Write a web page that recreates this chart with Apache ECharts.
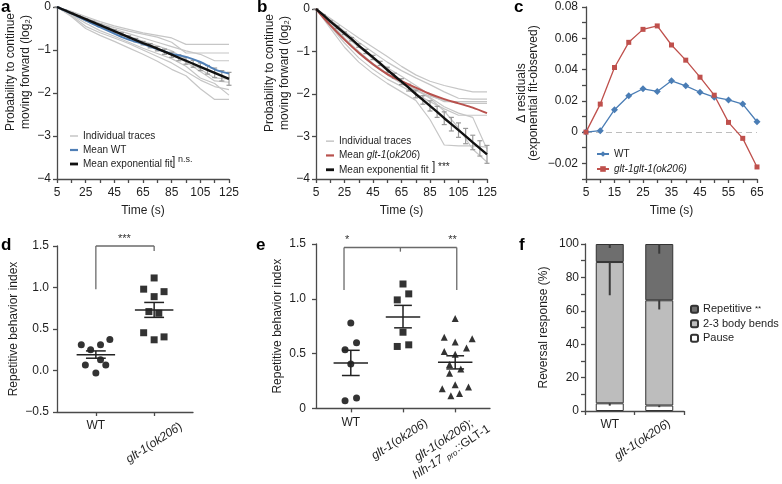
<!DOCTYPE html>
<html><head><meta charset="utf-8">
<script src="https://cdn.jsdelivr.net/npm/echarts@6/dist/echarts.min.js"></script>
<style>html,body{margin:0;padding:0;background:#fff}#c{width:782px;height:484px}</style>
</head><body><div id="c"></div>
<script>
// ================= DATA =================
// Panel a / b: time grid of traces (s)
const tTrace = [5,15,25,35,45,55,65,75,85,95,105,115,125];
const tFit = [5,10,15,20,25,30,35,40,45,50,55,60,65,70,75,80,85,90,95,100,105,110,115,120,125];
const xTicksAB = [5,15,25,35,45,55,65,75,85,95,105,115,125];
const xLabelsAB = [5,25,45,65,85,105,125];

// Panel a: WT individual traces (log2)
const tracesA = [
  [0,-0.10,-0.22,-0.34,-0.44,-0.52,-0.60,-0.66,-0.72,-0.87,-0.87,-0.87,-0.87],
  [0,-0.11,-0.25,-0.38,-0.48,-0.56,-0.63,-0.70,-0.82,-1.07,-1.07,-1.07,-1.07],
  [0,-0.14,-0.28,-0.40,-0.52,-0.62,-0.72,-0.82,-0.92,-1.02,-1.10,-1.25,-1.25],
  [0,-0.16,-0.33,-0.47,-0.60,-0.72,-0.84,-0.98,-1.12,-1.28,-1.50,-1.72,-1.75],
  [0,-0.20,-0.45,-0.60,-0.72,-0.85,-1.00,-1.15,-1.30,-1.50,-1.70,-1.85,-1.92],
  [0,-0.22,-0.50,-0.66,-0.80,-0.95,-1.10,-1.26,-1.45,-1.60,-1.90,-2.15,-2.15],
  [0,-0.18,-0.38,-0.55,-0.68,-0.82,-0.96,-1.08,-1.20,-1.38,-1.65,-1.78,-2.05],
  [0,-0.13,-0.30,-0.45,-0.58,-0.68,-0.80,-0.90,-1.02,-1.22,-1.45,-1.65,-1.68]
];
const meanWT = [0,-0.15,-0.31,-0.47,-0.62,-0.76,-0.86,-0.98,-1.09,-1.16,-1.28,-1.45,-1.55];
const fitA = [0,-0.07,-0.14,-0.21,-0.28,-0.35,-0.42,-0.49,-0.56,-0.63,-0.70,-0.77,-0.84,-0.90,-0.97,-1.04,-1.11,-1.18,-1.25,-1.32,-1.39,-1.46,-1.53,-1.60,-1.67];
const semA = [0,0.005,0.01,0.01,0.01,0.02,0.02,0.02,0.03,0.03,0.03,0.04,0.04,0.05,0.05,0.06,0.06,0.07,0.08,0.08,0.09,0.10,0.11,0.12,0.15];

// Panel b: glt-1(ok206) individual traces (log2)
const tracesB = [
  [0,-0.22,-0.45,-0.68,-0.90,-1.12,-1.35,-1.55,-1.70,-1.80,-1.88,-1.95,-1.95],
  [0,-0.25,-0.52,-0.78,-1.02,-1.25,-1.45,-1.62,-1.78,-1.95,-2.10,-2.12,-2.12],
  [0,-0.30,-0.62,-0.90,-1.15,-1.38,-1.58,-1.80,-2.02,-2.18,-2.18,-2.18,-2.18],
  [0,-0.35,-0.72,-1.05,-1.32,-1.55,-1.75,-1.92,-2.05,-2.15,-2.22,-2.22,-2.22],
  [0,-0.40,-0.80,-1.15,-1.42,-1.65,-1.82,-2.00,-2.18,-2.35,-2.50,-2.50,-2.50],
  [0,-0.45,-0.90,-1.25,-1.52,-1.75,-1.95,-2.15,-2.60,-3.20,-3.22,-3.22,-3.25],
  [0,-0.32,-0.68,-1.00,-1.28,-1.52,-1.72,-1.90,-2.10,-2.40,-2.80,-3.30,-3.60],
  [0,-0.28,-0.58,-0.88,-1.18,-1.45,-1.68,-1.88,-2.08,-2.30,-2.45,-2.55,-3.30]
];
const meanGlt = [0,-0.38,-0.72,-1.03,-1.30,-1.53,-1.70,-1.85,-2.00,-2.12,-2.22,-2.32,-2.45];
const fitB = [0,-0.14,-0.29,-0.43,-0.57,-0.71,-0.86,-1.00,-1.14,-1.28,-1.43,-1.57,-1.71,-1.85,-2.00,-2.14,-2.28,-2.42,-2.57,-2.71,-2.85,-2.99,-3.14,-3.28,-3.42];
const semB = [0,0.01,0.02,0.03,0.03,0.04,0.04,0.05,0.05,0.05,0.06,0.06,0.07,0.08,0.09,0.10,0.12,0.13,0.15,0.16,0.17,0.18,0.17,0.18,0.21];

// Panel c: residuals
const tC = [5,10,15,20,25,30,35,40,45,50,55,60,65];
const xTicksC = [5,10,15,20,25,30,35,40,45,50,55,60,65];
const xLabelsC = [5,15,25,35,45,55,65];
const yLabelsC = [-0.02,0,0.02,0.04,0.06,0.08];
const resWT = [0,0.0009,0.0143,0.0232,0.0277,0.026,0.0328,0.0296,0.0255,0.0223,0.0206,0.0179,0.0066];
const resGlt = [0,0.0179,0.0413,0.0574,0.0657,0.0679,0.0557,0.046,0.0351,0.0236,0.0062,-0.004,-0.0223];

// Panel d: repetitive behavior index
const dWTvals = [0.31,0.25,0.31,0.375,0.065,0.13,0.065,-0.03];
const dWTjit  = [-0.25,-0.09,0.08,0.24,-0.18,0.08,0.17,0];
const dGltVals = [1.115,0.98,0.95,0.89,0.71,0.69,0.455,0.37,0.405];
const dGltJit  = [0,-0.18,0.17,0,-0.09,0.08,-0.18,0,0.17];
const dMean = [0.19,0.73];
const dSem = [[0.148,0.236],[0.64,0.82]];
const dSig = [[1,0.98,1,1.5],[1,1.5,2,1.5],[2,1.5,2,1.44]];
const dStars = [[1.49,1.5]]; const dStarText = ['***'];

// Panel e
const eWTvals = [0.78,0.535,0.60,0.405,0.07,0.095];
const eWTjit  = [0,-0.11,0.11,0,-0.11,0.11];
const eGltVals = [1.135,1.045,0.99,0.695,0.565,0.58];
const eGltJit  = [0,0.11,-0.11,0,-0.11,0.11];
const eResVals = [0.82,0.65,0.605,0.635,0.52,0.55,0.495,0.40,0.36,0.32,0.18,0.215,0.195,0.115,0.135];
const eResJit  = [0,-0.21,0,0.325,-0.21,0.217,0,-0.108,0.108,-0.108,-0.248,0,0.255,-0.083,0.083];
const eMean = [0.415,0.835,0.42];
const eSem = [[0.30,0.53],[0.735,0.94],[0.36,0.48]];
const eSig = [[0.87,1.08,0.87,1.468],[0.87,1.468,3.03,1.468],[3.03,1.468,3.03,1.08],[1.95,1.468,1.95,1.43]];
const eStars = [[0.93,1.468],[2.95,1.468]]; const eStarText = ['*','**'];

// Panel f: reversal response (%)
const fCats = ['WT','glt-1(ok206)'];
const fPause = [4.6,3.3];
const fBends = [84.6,63.0];
const fRep = [10.8,33.7];
const fErr = [ // [category, segment top, error length]
  [0,100,2.4],[0,89.2,19.9],[0,4.6,1.4],
  [1,100,5.8],[1,66.3,5.5],[1,3.3,1.0]
];

// ================= STYLE =================
const F = '"Liberation Sans", Arial, Helvetica, sans-serif';
const TX = '#1e1e1e', AX = '#4a4a4a';
const minus = v => (v < 0 ? '\u2212' : '') + Math.abs(v);

function merge(a, b) {
  const o = Object.assign({}, a);
  for (const k in b) {
    if (b[k] && typeof b[k] === 'object' && !Array.isArray(b[k]) && a[k] && typeof a[k] === 'object') o[k] = merge(a[k], b[k]);
    else o[k] = b[k];
  }
  return o;
}
const axBase = {
  axisLine: {show: true, onZero: false, lineStyle: {color: AX, width: 1.3}},
  axisTick: {show: true, length: 4, lineStyle: {color: AX, width: 1.3}},
  splitLine: {show: false},
  axisLabel: {color: TX, fontSize: 12, fontFamily: F, margin: 6},
  nameTextStyle: {color: TX, fontSize: 12, fontFamily: F}
};
const ax = o => merge(axBase, o);
const ital = {fontStyle: 'italic', fontSize: 12, fontFamily: F, color: TX};
const norm = {fontSize: 12, fontFamily: F, color: TX};

// ================= RENDERERS =================
function errBar(cap, color, w) {
  return function (p, api) {
    const x = api.value(0), y = api.value(1), e = api.value(2);
    const hi = api.coord([x, y + e]), lo = api.coord([x, y - e]);
    const st = {stroke: color, lineWidth: w};
    return {type: 'group', children: [
      {type: 'line', shape: {x1: hi[0], y1: hi[1], x2: lo[0], y2: lo[1]}, style: st},
      {type: 'line', shape: {x1: hi[0] - cap, y1: hi[1], x2: hi[0] + cap, y2: hi[1]}, style: st},
      {type: 'line', shape: {x1: lo[0] - cap, y1: lo[1], x2: lo[0] + cap, y2: lo[1]}, style: st}
    ]};
  };
}
function summary(p, api) {
  const x = api.value(0), m = api.value(1), lo = api.value(2), hi = api.value(3);
  const a = api.coord([x - 0.33, m]), b = api.coord([x + 0.33, m]);
  const pl = api.coord([x, lo]), ph = api.coord([x, hi]);
  const l1 = api.coord([x - 0.17, lo]), l2 = api.coord([x + 0.17, lo]);
  const h1 = api.coord([x - 0.17, hi]), h2 = api.coord([x + 0.17, hi]);
  const st = {stroke: '#222', lineWidth: 1.5};
  return {type: 'group', children: [
    {type: 'line', shape: {x1: a[0], y1: a[1], x2: b[0], y2: b[1]}, style: st},
    {type: 'line', shape: {x1: pl[0], y1: pl[1], x2: ph[0], y2: ph[1]}, style: st},
    {type: 'line', shape: {x1: l1[0], y1: l1[1], x2: l2[0], y2: l2[1]}, style: st},
    {type: 'line', shape: {x1: h1[0], y1: h1[1], x2: h2[0], y2: h2[1]}, style: st}
  ]};
}
function seg(p, api) {
  const a = api.coord([api.value(0), api.value(1)]), b = api.coord([api.value(2), api.value(3)]);
  return {type: 'line', shape: {x1: a[0], y1: a[1], x2: b[0], y2: b[1]}, style: {stroke: '#6a6a6a', lineWidth: 1.3}};
}
function starText(texts) {
  return function (p, api) {
    const c = api.coord([api.value(0), api.value(1)]);
    return {type: 'text', x: c[0], y: c[1] - 2, style: {text: texts[p.dataIndex], fill: '#333', font: '11px ' + F, textAlign: 'center', textVerticalAlign: 'bottom'}};
  };
}
function fErrRender(p, api) {
  const a = api.coord([api.value(0), api.value(1)]), b = api.coord([api.value(0), api.value(1) - api.value(2)]);
  return {type: 'line', shape: {x1: a[0], y1: a[1], x2: b[0], y2: b[1]}, style: {stroke: '#3a3a3a', lineWidth: 2}};
}

// ================= AXES =================
const grids = [
  {left: 57, top: 7, width: 172, height: 172},
  {left: 316, top: 9, width: 171, height: 170},
  {left: 586, top: 7, width: 171, height: 172},
  {left: 57, top: 246, width: 136, height: 166},
  {left: 316, top: 244, width: 174, height: 168},
  {left: 585, top: 244, width: 99, height: 167}
];
const timeX = (gi, min, max, ticks, labels) => ax({type: 'value', gridIndex: gi, min, max, position: 'bottom',
  axisTick: {customValues: ticks}, axisLabel: {customValues: labels, margin: 8},
  name: 'Time (s)', nameLocation: 'middle', nameGap: 26});
const gltLab = '{i|glt-1}{n|(}{i|ok206}{n|)}';
const xAxes = [
  timeX(0, 5, 125, xTicksAB, xLabelsAB),
  timeX(1, 5, 125, xTicksAB, xLabelsAB),
  timeX(2, 5, 65, xTicksC, xLabelsC),
  // d
  ax({type: 'value', gridIndex: 3, min: 1/3, max: 8/3, position: 'bottom', axisTick: {customValues: [1, 2]},
      axisLabel: {customValues: [1], formatter: () => 'WT', margin: 8}}),
  ax({type: 'value', gridIndex: 3, min: 1/3, max: 8/3, position: 'bottom', axisLine: {show: false}, axisTick: {show: false},
      axisLabel: {customValues: [2], formatter: () => gltLab, rotate: 33, align: 'center', verticalAlign: 'middle', margin: 31, rich: {i: ital, n: norm}}}),
  // e
  ax({type: 'value', gridIndex: 4, min: 1/3, max: 11/3, position: 'bottom', axisTick: {customValues: [1, 2, 3]},
      axisLabel: {customValues: [1], formatter: () => 'WT', margin: 8}}),
  ax({type: 'value', gridIndex: 4, min: 1/3, max: 11/3, position: 'bottom', axisLine: {show: false}, axisTick: {show: false},
      axisLabel: {customValues: [2], formatter: () => gltLab, rotate: 33, align: 'center', verticalAlign: 'middle', margin: 29, padding: [0, 8, 0, 0], rich: {i: ital, n: norm}}}),
  ax({type: 'value', gridIndex: 4, min: 1/3, max: 11/3, position: 'bottom', axisLine: {show: false}, axisTick: {show: false},
      axisLabel: {customValues: [3], formatter: () => '{i|glt-1}{n|(}{i|ok206}{n|);}\n{i|hlh-17 }{s|pro}{n|::GLT-1}', rotate: 33, align: 'center', verticalAlign: 'middle', margin: 33, padding: [0, 18, 0, 0], lineHeight: 14,
        rich: {i: Object.assign({lineHeight: 14}, ital), n: Object.assign({lineHeight: 14}, norm), s: {fontStyle: 'italic', fontSize: 8, fontFamily: F, color: TX, padding: [6, 1, 0, 1]}}}}),
  // f
  ax({type: 'category', gridIndex: 5, data: fCats, position: 'bottom',
      axisLabel: {interval: 0, formatter: (v, i) => i === 0 ? 'WT' : '', margin: 8}}),
  ax({type: 'category', gridIndex: 5, data: fCats, position: 'bottom', axisLine: {show: false}, axisTick: {show: false},
      axisLabel: {interval: 0, formatter: (v, i) => i === 1 ? gltLab : '', rotate: 33, align: 'center', verticalAlign: 'middle', margin: 18, padding: [0, 40, 0, 0], rich: {i: ital, n: norm}}})
];
const probName = 'Probability to continue\nmoving forward (log\u2082)';
const yAxes = [
  ax({type: 'value', gridIndex: 0, min: -4, max: 0, interval: 1, axisLabel: {formatter: minus},
      name: probName, nameLocation: 'middle', nameGap: 15, nameTextStyle: {lineHeight: 15, padding: [0, 0, 0, 42]}}),
  ax({type: 'value', gridIndex: 1, min: -4, max: 0, interval: 1, axisLabel: {formatter: minus},
      name: probName, nameLocation: 'middle', nameGap: 21, nameTextStyle: {lineHeight: 15, padding: [0, 0, 0, 42]}}),
  ax({type: 'value', gridIndex: 2, min: -0.03, max: 0.08, interval: 0.01,
      axisLabel: {customValues: yLabelsC, margin: 8, formatter: v => v === 0 ? '0' : (v < 0 ? '\u2212' : '') + Math.abs(v).toFixed(2)},
      name: '\u0394 residuals\n(exponential fit-observed)', nameLocation: 'middle', nameGap: 46, nameTextStyle: {lineHeight: 12}}),
  ax({type: 'value', gridIndex: 3, min: -0.5, max: 1.5, interval: 0.5,
      axisLabel: {margin: 8, formatter: v => (v < 0 ? '\u2212' : '') + Math.abs(v).toFixed(1)},
      name: 'Repetitive behavior index', nameLocation: 'middle', nameGap: 37}),
  ax({type: 'value', gridIndex: 4, min: 0, max: 1.5, interval: 0.5,
      axisLabel: {margin: 10, formatter: v => v === 0 ? '0' : v.toFixed(1)},
      name: 'Repetitive behavior index', nameLocation: 'middle', nameGap: 32}),
  ax({type: 'value', gridIndex: 5, min: 0, max: 100, interval: 10,
      axisLabel: {margin: 6, formatter: v => v % 20 === 0 ? String(v) : ''},
      name: 'Reversal response (%)', nameLocation: 'middle', nameGap: 35})
];

// ================= SERIES =================
const series = [];
const GREY = '#c6c6c6';
function tracePanel(xi, traces, mean, meanName, meanColor, fit, sem) {
  traces.forEach(tr => series.push({type: 'line', name: 'Individual traces', xAxisIndex: xi, yAxisIndex: xi,
    data: tTrace.map((t, i) => [t, tr[i]]), symbol: 'none', lineStyle: {color: GREY, width: 1.2}, itemStyle: {color: GREY}, z: 1}));
  series.push({type: 'custom', xAxisIndex: xi, yAxisIndex: xi, data: tFit.map((t, i) => [t, fit[i], sem[i]]),
    renderItem: errBar(2.5, '#999', 1.2), z: 2});
  series.push({type: 'line', name: meanName, xAxisIndex: xi, yAxisIndex: xi, data: tTrace.map((t, i) => [t, mean[i]]),
    symbol: 'none', smooth: 0.3, lineStyle: {color: meanColor, width: 2}, itemStyle: {color: meanColor}, z: 3});
  series.push({type: 'line', name: 'Mean exponential fit', xAxisIndex: xi, yAxisIndex: xi, data: tFit.map((t, i) => [t, fit[i]]),
    symbol: 'none', lineStyle: {color: '#111', width: 2.4}, itemStyle: {color: '#111'}, z: 4});
}
tracePanel(0, tracesA, meanWT, 'Mean WT', '#4f7fb6', fitA, semA);
tracePanel(1, tracesB, meanGlt, 'Mean glt-1(ok206)', '#b8514d', fitB, semB);

series.push({type: 'line', name: 'WT', xAxisIndex: 2, yAxisIndex: 2, data: tC.map((t, i) => [t, resWT[i]]),
  symbol: 'diamond', symbolSize: 7, lineStyle: {color: '#4a7db5', width: 1.3}, itemStyle: {color: '#4a7db5'}, z: 3,
  markLine: {silent: true, symbol: 'none', label: {show: false}, lineStyle: {color: '#bdbdbd', type: [6, 4], width: 1.2}, data: [{yAxis: 0}], z: 1}});
series.push({type: 'line', name: 'glt-1glt-1(ok206)', xAxisIndex: 2, yAxisIndex: 2, data: tC.map((t, i) => [t, resGlt[i]]),
  symbol: 'rect', symbolSize: 5, lineStyle: {color: '#bf504c', width: 1.3}, itemStyle: {color: '#bf504c'}, z: 3});

// d
const sc = (xi, yi, x0, vals, jit, sym) => ({type: 'scatter', xAxisIndex: xi, yAxisIndex: yi, symbol: sym, symbolSize: 7,
  itemStyle: {color: '#000'}, data: vals.map((v, i) => [x0 + jit[i], v]), z: 3});
series.push(sc(3, 3, 1, dWTvals, dWTjit, 'circle'));
series.push(sc(3, 3, 2, dGltVals, dGltJit, 'rect'));
series.push({type: 'custom', xAxisIndex: 3, yAxisIndex: 3, renderItem: summary, data: dMean.map((m, i) => [i + 1, m, dSem[i][0], dSem[i][1]]), z: 4});
series.push({type: 'custom', xAxisIndex: 3, yAxisIndex: 3, renderItem: seg, data: dSig, z: 4});
series.push({type: 'custom', xAxisIndex: 3, yAxisIndex: 3, renderItem: starText(dStarText), data: dStars, z: 4});
// e
series.push(sc(5, 4, 1, eWTvals, eWTjit, 'circle'));
series.push(sc(5, 4, 2, eGltVals, eGltJit, 'rect'));
series.push(sc(5, 4, 3, eResVals, eResJit, 'triangle'));
series.push({type: 'custom', xAxisIndex: 5, yAxisIndex: 4, renderItem: summary, data: eMean.map((m, i) => [i + 1, m, eSem[i][0], eSem[i][1]]), z: 4});
series.push({type: 'custom', xAxisIndex: 5, yAxisIndex: 4, renderItem: seg, data: eSig, z: 4});
series.push({type: 'custom', xAxisIndex: 5, yAxisIndex: 4, renderItem: starText(eStarText), data: eStars, z: 4});
// f
const bar = (name, vals, color) => ({type: 'bar', name, stack: 'f', xAxisIndex: 8, yAxisIndex: 5, data: vals, barWidth: 28,
  itemStyle: {color, borderColor: '#333', borderWidth: 1}, z: 2});
series.push(bar('Pause', fPause, '#ffffff'));
series.push(bar('2-3 body bends', fBends, '#bdbdbd'));
series.push(bar('Repetitive', fRep, '#6e6e6e'));
series.push({type: 'custom', xAxisIndex: 8, yAxisIndex: 5, renderItem: fErrRender, data: fErr, z: 5});

// ================= LEGENDS / TITLES =================
const ital10 = {fontStyle: 'italic', fontSize: 10, fontFamily: F, color: TX};
const legBase = {orient: 'vertical', itemGap: 0, itemWidth: 8, itemHeight: 8, selectedMode: false, padding: 0,
  textStyle: {color: TX, fontSize: 10, fontFamily: F, lineHeight: 14, rich: {i: ital10}}};
const icoThin = 'path://M0,0H8V1.5H0Z', icoMid = 'path://M0,0H8V2.2H0Z', icoThick = 'path://M0,0H8V2.8H0Z';
const legends = [
  merge(legBase, {left: 70, top: 129, data: [
    {name: 'Individual traces', icon: icoThin}, {name: 'Mean WT', icon: icoMid}, {name: 'Mean exponential fit', icon: icoThick}]}),
  merge(legBase, {left: 326, top: 134, textStyle: {lineHeight: 14.3}, data: [
    {name: 'Individual traces', icon: icoThin}, {name: 'Mean glt-1(ok206)', icon: icoMid}, {name: 'Mean exponential fit', icon: icoThick}],
    formatter: n => n === 'Mean glt-1(ok206)' ? 'Mean {i|glt-1}({i|ok206})' : n}),
  merge(legBase, {left: 596, top: 146.5, itemWidth: 12, itemHeight: 7, textStyle: {lineHeight: 15},
    data: ['WT', {name: 'glt-1glt-1(ok206)', textStyle: {fontStyle: 'italic'}}]}),
  merge(legBase, {left: 690, top: 302, itemWidth: 7, itemHeight: 7, textStyle: {fontSize: 11, lineHeight: 14.5, rich: {s: {fontSize: 8, fontFamily: F, color: TX}}},
    data: ['Repetitive', '2-3 body bends', 'Pause'], formatter: n => n === 'Repetitive' ? 'Repetitive {s|**}' : n})
];
const letter = (t, l, tp) => ({text: t, left: l, top: tp, padding: 0, textStyle: {fontSize: 17, fontWeight: 'bold', fontFamily: F, color: '#000'}});

const chart = echarts.init(document.getElementById('c'), null, {renderer: 'canvas'});
chart.setOption({
  animation: false,
  backgroundColor: '#fff',
  title: [letter('a', 1, -1), letter('b', 257, -1), letter('c', 514, -1), letter('d', 1, 237), letter('e', 256, 237), letter('f', 519, 237)],
  grid: grids,
  xAxis: xAxes,
  yAxis: yAxes,
  legend: legends,
  series: series,
  graphic: [
    {type: 'text', left: 172, top: 156, style: {text: ']', font: '12px ' + F, fill: TX}},
    {type: 'text', left: 178, top: 155, style: {text: 'n.s.', font: '9px ' + F, fill: TX}},
    {type: 'text', left: 432, top: 161, style: {text: ']', font: '12px ' + F, fill: TX}},
    {type: 'text', left: 438, top: 162, style: {text: '***', font: '10px ' + F, fill: TX}}
  ]
});
</script></body></html>
